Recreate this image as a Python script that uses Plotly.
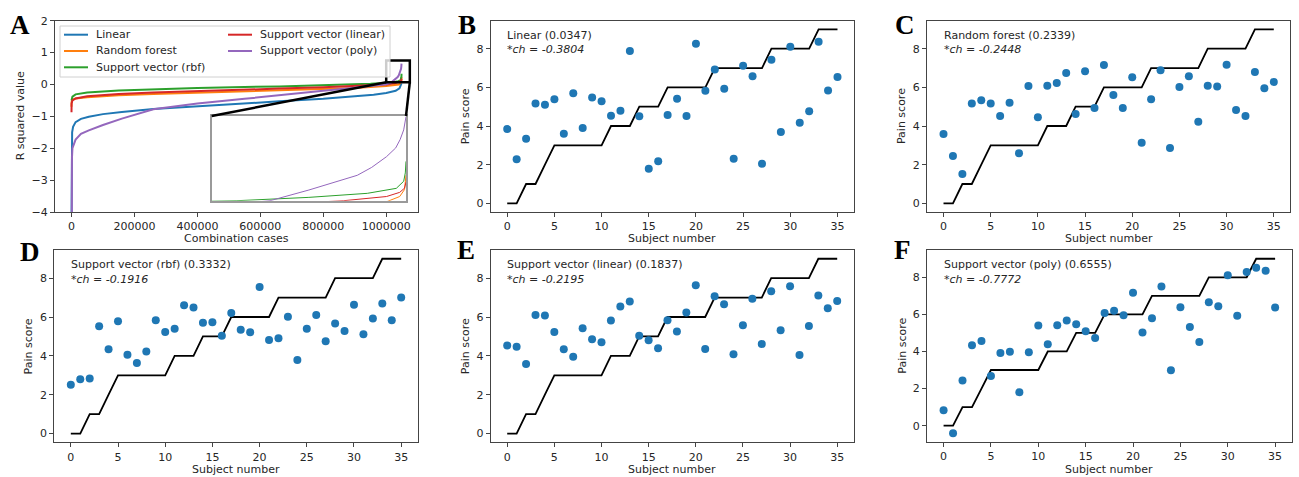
import plotly.graph_objects as go

W, H = 1299, 477

# ---------------- Panel A data: sorted R squared over combination cases ----------------
lin_x = [0, 500, 2000, 5000, 13000, 30000, 55000, 100000, 160000, 260000, 400000, 550000,
         660000, 800000, 900000, 960000, 1000000, 1030000, 1042000, 1046000, 1048575]
lin_y = [-4.3, -2.0, -1.5, -1.33, -1.18, -1.08, -1.01, -0.93, -0.86, -0.77, -0.68, -0.6,
         -0.53, -0.45, -0.38, -0.32, -0.27, -0.2, -0.12, -0.05, 0.0347]

rf_x = [0, 300, 3000, 13000, 50000, 150000, 260000, 400000, 660000, 800000, 900000,
        1000000, 1040000, 1044700, 1047000, 1048200, 1048575]
rf_y = [-0.7, -0.55, -0.48, -0.44, -0.4, -0.34, -0.3, -0.26, -0.19, -0.15, -0.11,
        -0.05, 0.0, 0.05, 0.08, 0.13, 0.2339]

rbf_x = [0, 500, 3000, 13000, 50000, 150000, 260000, 400000, 660000, 800000, 900000, 950000,
         1006300, 1024300, 1038900, 1046150, 1048000, 1048400, 1048575]
rbf_y = [-0.5, -0.45, -0.38, -0.31, -0.25, -0.19, -0.15, -0.11, -0.06, -0.03, 0.0, 0.02,
         0.05, 0.074, 0.103, 0.139, 0.19, 0.25, 0.3332]

svl_x = [0, 300, 3000, 13000, 50000, 150000, 260000, 400000, 660000, 800000, 900000,
         1000000, 1033000, 1043700, 1047000, 1048200, 1048575]
svl_y = [-0.87, -0.6, -0.5, -0.44, -0.37, -0.3, -0.25, -0.2, -0.13, -0.09, -0.05,
         0.0, 0.05, 0.08, 0.11, 0.14, 0.1837]

pol_x = [0, 300, 1500, 3000, 13000, 30000, 55000, 100000, 160000, 260000, 400000, 550000,
         660000, 800000, 900000, 950000, 1000000, 1014600, 1024300, 1030000, 1036400, 1040000,
         1043700, 1046000, 1047100, 1048000, 1048575]
pol_y = [-8, -3, -2.3, -2.0, -1.73, -1.55, -1.44, -1.27, -1.07, -0.78, -0.6, -0.45,
         -0.33, -0.2, -0.1, -0.05, 0.01, 0.05, 0.127, 0.175, 0.233, 0.29,
         0.367, 0.43, 0.49, 0.56, 0.6555]

curve_names = ["Linear", "Random forest", "Support vector (rbf)", "Support vector (linear)", "Support vector (poly)"]
curve_colors = ["#1f77b4", "#ff7f0e", "#2ca02c", "#d62728", "#9467bd"]
curves_x = [lin_x, rf_x, rbf_x, svl_x, pol_x]
curves_y = [lin_y, rf_y, rbf_y, svl_y, pol_y]

# zoomed window of the inset and the box marked on panel A
inset_xrange = [1000000, 1048575]
inset_yrange = [0.05, 0.66]
box_x = [1000000, 1075000]
box_y = [0.07, 0.75]

# ---------------- Panels B-F data ----------------
subjects = list(range(36))
pain_true = [0, 0, 1, 1, 2, 3, 3, 3, 3, 3, 3, 4, 4, 4, 5, 5, 5, 6, 6, 6, 6, 6,
             7, 7, 7, 7, 7, 7, 8, 8, 8, 8, 8, 9, 9, 9]

pred_lin = [3.84, 2.28, 3.34, 5.17, 5.10, 5.38, 3.60, 5.69, 3.90, 5.47, 5.28, 4.53,
            4.79, 7.88, 4.50, 1.79, 2.17, 4.57, 5.41, 4.52, 8.26, 5.83, 6.93, 5.93,
            2.31, 7.12, 6.57, 2.05, 7.43, 3.69, 8.10, 4.17, 4.76, 8.36, 5.84, 6.53]
pred_rf = [3.59, 2.45, 1.52, 5.17, 5.33, 5.17, 4.52, 5.21, 2.59, 6.07, 4.45, 6.09,
           6.22, 6.74, 4.62, 6.84, 4.93, 7.16, 5.60, 4.93, 6.52, 3.14, 5.38, 6.88,
           2.86, 6.02, 6.57, 4.22, 6.09, 6.05, 7.17, 4.83, 4.52, 6.79, 5.95, 6.28]
pred_rbf = [2.51, 2.79, 2.84, 5.52, 4.34, 5.78, 4.06, 3.63, 4.23, 5.83, 5.23, 5.39,
            6.61, 6.49, 5.71, 5.73, 5.04, 6.21, 5.35, 5.22, 7.54, 4.82, 4.91, 6.02,
            3.79, 5.40, 6.11, 4.75, 5.66, 5.28, 6.63, 5.11, 5.92, 6.70, 5.83, 7.00]
pred_svl = [4.53, 4.47, 3.58, 6.11, 6.08, 5.23, 4.34, 3.96, 5.42, 4.85, 4.70, 5.82,
            6.54, 6.80, 5.04, 4.80, 4.39, 5.83, 5.25, 6.23, 7.64, 4.35, 7.07, 6.66,
            4.08, 5.58, 6.94, 4.61, 7.33, 5.32, 7.59, 4.04, 5.54, 7.11, 6.45, 6.83]
pred_pol = [0.83, -0.41, 2.43, 4.33, 4.57, 2.68, 3.92, 3.99, 1.80, 3.96, 5.40, 4.39,
            5.41, 5.67, 5.47, 5.09, 4.73, 6.08, 6.19, 5.95, 7.16, 5.02, 5.79, 7.50,
            2.99, 6.38, 5.32, 4.51, 6.65, 6.44, 8.11, 5.92, 8.29, 8.51, 8.35, 6.37]

model_labels = ["Linear (0.0347)", "Random forest (0.2339)", "Support vector (rbf) (0.3332)",
                "Support vector (linear) (0.1837)", "Support vector (poly) (0.6555)"]
ch_labels = ["*ch = -0.3804", "*ch = -0.2448", "*ch = -0.1916", "*ch = -0.2195", "*ch = -0.7772"]
panel_letters = ["A", "B", "C", "D", "E", "F"]
preds = [pred_lin, pred_rf, pred_rbf, pred_svl, pred_pol]

# ---------------- layout geometry (pixels of the 1299x477 window) ----------------
def px(x):
    return x / W

def py(y):
    return 1 - y / H

# plot areas: (left, right, top, bottom)
areas = {
    1: (55, 418, 20.7, 212),
    2: (490.7, 854, 20.7, 212),
    3: (927, 1290.3, 20.7, 212),
    4: (54.3, 417.7, 250, 442.3),
    5: (490.7, 853.7, 250, 442.3),
    6: (927, 1291.7, 250, 442),
    7: (211.7, 406, 116, 200.7),
}
ylabel_x = {1: 20, 2: 465, 3: 901.7, 4: 28.3, 5: 465, 6: 901.7}
letter_pos = {1: (20, 25), 2: (466.7, 25), 3: (905, 25), 4: (29.5, 252), 5: (466, 250), 6: (902.5, 250)}

fig = go.Figure()

BLUE = "#1f77b4"
FONT = "DejaVu Sans"
AXC = "#444444"
TXT = "#262626"

# Panel A curves
for nm, c, xs, ys in zip(curve_names, curve_colors, curves_x, curves_y):
    fig.add_trace(go.Scatter(x=xs, y=ys, mode="lines", name=nm, line=dict(color=c, width=2),
                             xaxis="x", yaxis="y", showlegend=False))
# Inset curves
for nm, c, xs, ys in zip(curve_names, curve_colors, curves_x, curves_y):
    fig.add_trace(go.Scatter(x=xs, y=ys, mode="lines", name=nm, line=dict(color=c, width=1),
                             xaxis="x7", yaxis="y7", showlegend=False))

# Panels B-F
for i, pr in enumerate(preds):
    k = i + 2
    ax = str(k)
    fig.add_trace(go.Scatter(x=subjects, y=pain_true, mode="lines", line=dict(color="black", width=1.8),
                             xaxis="x" + ax, yaxis="y" + ax, showlegend=False, name="True pain score"))
    fig.add_trace(go.Scatter(x=subjects, y=pr, mode="markers", marker=dict(color=BLUE, size=8),
                             xaxis="x" + ax, yaxis="y" + ax, showlegend=False, name=curve_names[i]))

layout = dict(width=W, height=H, margin=dict(l=0, r=0, t=0, b=0, autoexpand=False),
              paper_bgcolor="white", plot_bgcolor="white", showlegend=False,
              font=dict(family=FONT, size=11, color=TXT))

def axis_common():
    return dict(showline=True, mirror=True, linecolor=AXC, linewidth=1, ticks="outside",
                ticklen=4, tickcolor=AXC, showgrid=False, zeroline=False, automargin=False,
                tickfont=dict(family=FONT, size=11, color=TXT))

# Axis A
xmax = max(max(xs) for xs in curves_x)
xmin = min(min(xs) for xs in curves_x)
pad = 0.05 * (xmax - xmin)
xa_range = [xmin - pad, xmax + pad]
ya_range = [-4, 2]
l, r, t, b = areas[1]
layout["xaxis"] = dict(axis_common(), domain=[px(l), px(r)], range=xa_range, anchor="y",
                       tickvals=[0, 200000, 400000, 600000, 800000, 1000000], tickformat="d")
layout["yaxis"] = dict(axis_common(), domain=[py(b), py(t)], range=ya_range, anchor="x",
                       tickvals=[-4, -3, -2, -1, 0, 1, 2])

for k in range(2, 7):
    l, r, t, b = areas[k]
    pr = preds[k - 2]
    lo = min(min(pr), min(pain_true))
    hi = max(max(pr), max(pain_true))
    yp = 0.05 * (hi - lo)
    xp = 0.05 * (max(subjects) - min(subjects))
    layout["xaxis%d" % k] = dict(axis_common(), domain=[px(l), px(r)],
                                 range=[min(subjects) - xp, max(subjects) + xp], anchor="y%d" % k,
                                 tickvals=[0, 5, 10, 15, 20, 25, 30, 35])
    layout["yaxis%d" % k] = dict(axis_common(), domain=[py(b), py(t)], range=[lo - yp, hi + yp],
                                 anchor="x%d" % k, tickvals=[0, 2, 4, 6, 8])

# inset axis
l, r, t, b = areas[7]
layout["xaxis7"] = dict(domain=[px(l), px(r)], range=inset_xrange, anchor="y7", showline=True, mirror=True,
                        linecolor="#9a9a9a", linewidth=1.5, showticklabels=False, ticks="", showgrid=False,
                        zeroline=False)
layout["yaxis7"] = dict(domain=[py(b), py(t)], range=inset_yrange, anchor="x7", showline=True, mirror=True,
                        linecolor="#9a9a9a", linewidth=1.5, showticklabels=False, ticks="", showgrid=False,
                        zeroline=False)

# data->paper for panel A (for the inset connector lines)
def a_to_paper(x, y):
    l, r, t, b = areas[1]
    fx = (x - xa_range[0]) / (xa_range[1] - xa_range[0])
    fy = (y - ya_range[0]) / (ya_range[1] - ya_range[0])
    return px(l) + fx * (px(r) - px(l)), py(b) + fy * (py(t) - py(b))

shapes = []
shapes.append(dict(type="rect", xref="paper", yref="paper", x0=px(areas[7][0]), x1=px(areas[7][1]),
                   y0=py(areas[7][3]), y1=py(areas[7][2]), fillcolor="white", line=dict(width=0), layer="below"))
shapes.append(dict(type="rect", xref="x", yref="y", x0=box_x[0], x1=box_x[1], y0=box_y[0], y1=box_y[1],
                   line=dict(color="black", width=2.5)))
bl = a_to_paper(box_x[0], box_y[0])
br = a_to_paper(box_x[1], box_y[0])
il, ir, it, ib = areas[7]
shapes.append(dict(type="line", xref="paper", yref="paper", x0=bl[0], y0=bl[1], x1=px(il), y1=py(it),
                   line=dict(color="black", width=2.5)))
shapes.append(dict(type="line", xref="paper", yref="paper", x0=br[0], y0=br[1], x1=px(ir), y1=py(it),
                   line=dict(color="black", width=2.5)))

# legend of panel A (2 columns, framed)
shapes.append(dict(type="rect", xref="paper", yref="paper", x0=px(60), x1=px(390), y0=py(77), y1=py(26),
                   line=dict(color="#d0d0d0", width=1), fillcolor="rgba(255,255,255,0.8)"))
annotations = []
leg_rows = [34.7, 51, 67.3]
leg_cols = [(64, 88, 94), (228, 252, 258)]
for i, (nm, c) in enumerate(zip(curve_names, curve_colors)):
    col = 0 if i < 3 else 1
    row = i if i < 3 else i - 3
    x0, x1, xt = leg_cols[col]
    yy = leg_rows[row]
    shapes.append(dict(type="line", xref="paper", yref="paper", x0=px(x0), x1=px(x1), y0=py(yy), y1=py(yy),
                       line=dict(color=c, width=2)))
    annotations.append(dict(text=nm, xref="paper", yref="paper", x=px(xt), y=py(yy), xanchor="left",
                            yanchor="middle", showarrow=False, font=dict(family=FONT, size=11, color=TXT)))

# axis titles and panel letters
for k in range(1, 7):
    l, r, t, b = areas[k]
    xt = "Combination cases" if k == 1 else "Subject number"
    yt = "R squared value" if k == 1 else "Pain score"
    annotations.append(dict(text=xt, xref="paper", yref="paper", x=px((l + r) / 2), y=py(b + 27),
                            xanchor="center", yanchor="middle", showarrow=False,
                            font=dict(family=FONT, size=11, color=TXT)))
    annotations.append(dict(text=yt, xref="paper", yref="paper", x=px(ylabel_x[k]), y=py((t + b) / 2),
                            xanchor="center", yanchor="middle", textangle=-90, showarrow=False,
                            font=dict(family=FONT, size=11, color=TXT)))
    lx, ly = letter_pos[k]
    annotations.append(dict(text="<b>%s</b>" % panel_letters[k - 1], xref="paper", yref="paper",
                            x=px(lx), y=py(ly), xanchor="center", yanchor="middle", showarrow=False,
                            font=dict(family="Liberation Serif", size=27, color="black")))

# model text in panels B-F
for i in range(5):
    k = i + 2
    l, r, t, b = areas[k]
    xr = layout["xaxis%d" % k]["range"]
    xleft = px(l) + (0 - xr[0]) / (xr[1] - xr[0]) * (px(r) - px(l))
    annotations.append(dict(text=model_labels[i], xref="paper", yref="paper", x=xleft - 2 / W, y=py(t + 14.5),
                            xanchor="left", yanchor="middle", showarrow=False,
                            font=dict(family=FONT, size=11, color=TXT)))
    annotations.append(dict(text="<i>%s</i>" % ch_labels[i], xref="paper", yref="paper", x=xleft - 2 / W,
                            y=py(t + 29), xanchor="left", yanchor="middle", showarrow=False,
                            font=dict(family=FONT, size=11, color=TXT)))

layout["shapes"] = shapes
layout["annotations"] = annotations
fig.update_layout(**layout)
# the page body margin is removed so the 1299x477 figure fills the window exactly
fig.write_html("out.html", config={"displayModeBar": False},
               post_script="document.body.style.margin='0px';")
